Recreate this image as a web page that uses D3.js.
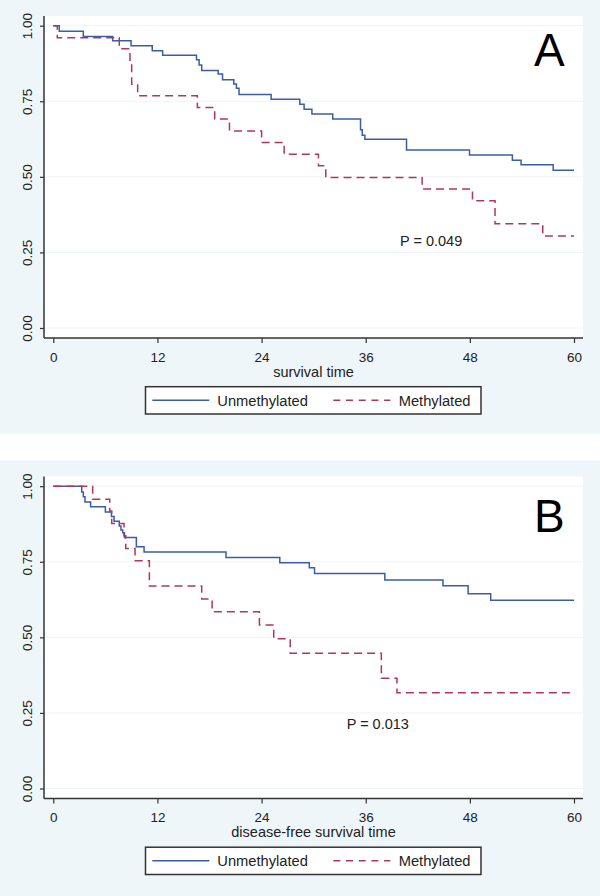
<!DOCTYPE html>
<html><head><meta charset="utf-8">
<script src="https://cdn.jsdelivr.net/npm/d3@7"></script>
<style>body{margin:0;background:#fff;}svg{display:block;font-family:"Liberation Sans",Arial,sans-serif;}</style>
</head><body>
<svg id="c" width="600" height="896"></svg>
<script>
// ---- data ----
const xTicks = [0, 12, 24, 36, 48, 60];
const yTicks = [0, 0.25, 0.5, 0.75, 1];
const seriesNames = ["Unmethylated", "Methylated"];

// Panel A: overall survival
const aUnmethTime = [0.69, 3.46, 6.84, 8.96, 11.4, 12.6, 16.5, 16.8, 17.1, 19.0, 19.5, 20.8, 21.1, 21.4, 25.1, 28.4, 28.9, 29.8, 32.2, 35.4, 35.6, 35.9, 40.7, 47.96, 52.9, 53.9, 57.6];
const aUnmethSurv = [0.982, 0.964, 0.950, 0.934, 0.917, 0.902, 0.887, 0.870, 0.852, 0.840, 0.821, 0.807, 0.793, 0.772, 0.757, 0.740, 0.724, 0.708, 0.691, 0.656, 0.638, 0.624, 0.589, 0.572, 0.555, 0.540, 0.522];
const aMethTime = [0.46, 7.6, 8.84, 9.03, 9.72, 16.6, 18.6, 20.3, 24.0, 26.6, 30.55, 31.4, 42.5, 48.3, 50.9, 56.4];
const aMethSurv = [0.960, 0.924, 0.883, 0.806, 0.768, 0.729, 0.691, 0.652, 0.614, 0.575, 0.537, 0.498, 0.460, 0.421, 0.345, 0.304];
const aP = "P = 0.049";

// Panel B: disease-free survival
const bUnmethTime = [3.27, 3.46, 3.65, 4.3, 6.0, 6.7, 7.0, 7.6, 7.8, 8.0, 8.2, 9.57, 10.46, 19.9, 26.1, 29.5, 30.1, 38.2, 44.9, 47.8, 50.4];
const bUnmethSurv = [0.981, 0.965, 0.948, 0.932, 0.915, 0.900, 0.884, 0.868, 0.855, 0.846, 0.830, 0.800, 0.782, 0.764, 0.747, 0.730, 0.711, 0.690, 0.671, 0.644, 0.623];
const bMethTime = [4.54, 6.5, 6.73, 8.15, 8.35, 9.42, 11.07, 17.1, 18.3, 23.75, 25.4, 27.3, 37.8, 39.6];
const bMethSurv = [0.957, 0.918, 0.877, 0.836, 0.794, 0.753, 0.670, 0.627, 0.585, 0.541, 0.495, 0.447, 0.365, 0.317];
const bP = "P = 0.013";

const colors = ["#3a5da6", "#b1365a"];
const bg = "#eef6f9";

const svg = d3.select("#c");

function panel(g, opt) {
  const x = d3.scaleLinear().domain([0, 60]).range([53.3, 574]);
  const y = d3.scaleLinear().domain([0, 1]).range([328, 25.7]);
  g.append("rect").attr("x", 0).attr("y", 0).attr("width", 600).attr("height", opt.h).attr("fill", bg);
  g.append("rect").attr("x", 44).attr("y", 16).attr("width", 539).attr("height", 322).attr("fill", "#fff");
  // gridlines
  g.selectAll(".grid").data(yTicks).join("line")
    .attr("x1", 44).attr("x2", 583).attr("y1", d => y(d)).attr("y2", d => y(d))
    .attr("stroke", "#eef4f6").attr("stroke-width", 1);
  // curves
  const line = d3.line().x(d => x(d[0])).y(d => y(d[1])).curve(d3.curveStepAfter);
  opt.series.forEach((s, i) => {
    const pts = [[0, 1]];
    s.t.forEach((t, j) => pts.push([t, s.s[j]]));
    pts.push([60, s.s[s.s.length - 1]]);
    g.append("path").attr("d", line(pts)).attr("fill", "none")
      .attr("stroke", colors[i]).attr("stroke-width", 1.5)
      .attr("stroke-dasharray", i === 1 ? "8,5" : null);
  });
  // axes
  const ya = g.append("g").attr("transform", "translate(44,0)")
    .call(d3.axisLeft(y).tickValues(yTicks).tickFormat(d3.format(".2f")).tickSize(4).tickPadding(4));
  ya.select(".domain").attr("d", "M0,16V338");
  ya.selectAll(".tick text").attr("transform", "rotate(-90)").attr("text-anchor", "middle")
    .attr("dy", null).attr("x", 0).attr("y", -12.5);
  const xa = g.append("g").attr("transform", "translate(0,338)")
    .call(d3.axisBottom(x).tickValues(xTicks).tickSize(5).tickPadding(4));
  xa.select(".domain").attr("d", "M44,0H583");
  [ya, xa].forEach(a => {
    a.selectAll(".domain").attr("stroke", "#333").attr("stroke-width", 1.5);
    a.selectAll(".tick line").attr("stroke", "#333").attr("stroke-width", 1.2);
    a.selectAll("text").attr("font-size", 13.5).attr("fill", "#222").attr("font-family", "Liberation Sans, Arial, sans-serif");
  });
  xa.selectAll("text").attr("dy", null).attr("y", 23.7);
  // axis title
  g.append("text").attr("x", 313.5).attr("y", 376.5).attr("text-anchor", "middle")
    .attr("font-size", 14.5).attr("fill", "#222").text(opt.xTitle);
  // P value
  g.append("text").attr("x", opt.px).attr("y", opt.py).attr("font-size", 14.5).attr("fill", "#222").text(opt.p);
  // panel letter
  g.append("text").attr("x", 534).attr("y", opt.ly).attr("font-size", 46).attr("fill", "#000").text(opt.letter);
  // legend
  const lg = g.append("g");
  lg.append("rect").attr("x", 145.5).attr("y", 386.7).attr("width", 335.5).attr("height", 27.3)
    .attr("fill", "#fff").attr("stroke", "#333").attr("stroke-width", 1.5);
  const lx = [152.3, 333.3], tx = [217.3, 398.7];
  seriesNames.forEach((n, i) => {
    lg.append("line").attr("x1", lx[i]).attr("x2", lx[i] + 57).attr("y1", 400.3).attr("y2", 400.3)
      .attr("stroke", colors[i]).attr("stroke-width", 1.5).attr("stroke-dasharray", i === 1 ? "7,5.7" : null);
    lg.append("text").attr("x", tx[i]).attr("y", 405.8).attr("font-size", 14.7).attr("fill", "#222").text(n);
  });
}

panel(svg.append("g"), {
  h: 434, xTitle: "survival time", p: aP, px: 400, py: 246, letter: "A", ly: 65.7,
  series: [{ t: aUnmethTime, s: aUnmethSurv }, { t: aMethTime, s: aMethSurv }]
});
panel(svg.append("g").attr("transform", "translate(0,460.5)"), {
  h: 436, xTitle: "disease-free survival time", p: bP, px: 346.7, py: 268.5, letter: "B", ly: 71.8,
  series: [{ t: bUnmethTime, s: bUnmethSurv }, { t: bMethTime, s: bMethSurv }]
});
</script>
</body></html>
